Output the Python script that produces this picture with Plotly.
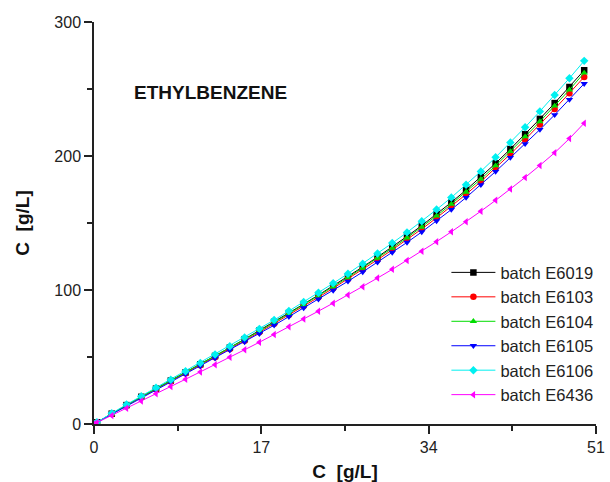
import plotly.graph_objects as go

# concentration in mobile phase [g/L]
x_vals = [0, 0.3, 1.8, 3.3, 4.8, 6.3, 7.8, 9.3, 10.8, 12.3, 13.8, 15.3, 16.8, 18.3,
          19.8, 21.3, 22.8, 24.3, 25.8, 27.3, 28.8, 30.3, 31.8, 33.3, 34.8, 36.3,
          37.8, 39.3, 40.8, 42.3, 43.8, 45.3, 46.8, 48.3, 49.8]

batch_E6019 = [0, 1.3, 7.7, 14.1, 20.3, 26.4, 32.4, 38.5, 44.6, 50.8, 57.0, 63.3, 69.7,
               76.2, 82.8, 89.5, 96.2, 103.0, 110.0, 117.2, 124.6, 132.2, 140.0, 148.1,
               156.6, 165.4, 174.6, 184.3, 194.5, 205.2, 216.3, 227.7, 239.5, 251.5, 264.0]
batch_E6103 = [0, 1.3, 7.5, 13.8, 19.9, 25.9, 31.8, 37.8, 43.8, 49.9, 56.0, 62.2, 68.5,
               74.9, 81.4, 88.0, 94.6, 101.3, 108.2, 115.3, 122.6, 130.0, 137.6, 145.5,
               153.8, 162.4, 171.4, 180.9, 190.9, 201.4, 212.3, 223.5, 235.1, 246.9, 259.0]
batch_E6104 = [0, 1.3, 7.6, 14.0, 20.1, 26.2, 32.2, 38.3, 44.3, 50.5, 56.7, 62.9, 69.3,
               75.8, 82.3, 88.9, 95.6, 102.4, 109.3, 116.4, 123.7, 131.2, 138.9, 146.9,
               155.3, 164.0, 173.1, 182.7, 192.8, 203.4, 214.4, 225.7, 237.4, 249.4, 262.0]
batch_E6105 = [0, 1.2, 7.4, 13.6, 19.6, 25.5, 31.3, 37.2, 43.1, 49.1, 55.1, 61.2, 67.4,
               73.7, 80.1, 86.6, 93.1, 99.7, 106.5, 113.5, 120.7, 128.0, 135.5, 143.3,
               151.5, 160.0, 169.0, 178.5, 188.4, 198.8, 209.1, 219.7, 230.7, 242.1, 254.0]
batch_E6106 = [0, 1.4, 8.0, 14.5, 20.8, 27.0, 33.1, 39.3, 45.5, 51.8, 58.1, 64.5, 71.0,
               77.6, 84.3, 91.1, 98.0, 105.0, 112.2, 119.6, 127.2, 135.0, 143.0, 151.3,
               160.0, 169.0, 178.5, 188.5, 199.0, 210.0, 221.5, 233.3, 245.5, 258.0, 271.0]
batch_E6436 = [0, 1.1, 6.4, 11.8, 17.2, 22.6, 28.0, 33.4, 38.8, 44.3, 49.8, 55.4, 61.0,
               66.7, 72.5, 78.3, 84.2, 90.2, 96.3, 102.5, 108.9, 115.4, 122.1, 129.0,
               136.1, 143.4, 151.0, 158.8, 166.9, 175.3, 184.0, 193.0, 202.4, 213.0, 224.5]

series_names = ["batch E6019", "batch E6103", "batch E6104", "batch E6105",
                "batch E6106", "batch E6436"]
series_values = [batch_E6019, batch_E6103, batch_E6104, batch_E6105,
                 batch_E6106, batch_E6436]
colors = ["#000000", "#ff0000", "#00dd00", "#0000ff", "#00f0f0", "#ff00ff"]
symbols = ["square", "circle", "triangle-up", "triangle-down", "diamond", "triangle-left"]

x_ticks = [0, 17, 34, 51]
y_ticks = [0, 100, 200, 300]

FONT = "Liberation Sans, Arial, Helvetica, sans-serif"

fig = go.Figure()
for name, vals, col, sym in zip(series_names, series_values, colors, symbols):
    fig.add_trace(go.Scatter(
        x=x_vals, y=vals, name=name, mode="lines+markers",
        line=dict(color=col, width=1),
        marker=dict(color=col, symbol=sym, size=6.5, line=dict(width=0)),
    ))

fig.update_layout(
    width=610, height=482,
    margin=dict(l=94, r=14, t=22, b=58, autoexpand=False),
    paper_bgcolor="white", plot_bgcolor="white",
    font=dict(family=FONT, color="#222222", size=16),
    showlegend=True,
    legend=dict(
        x=0.702, y=0.42, xanchor="left", yanchor="top",
        bgcolor="rgba(0,0,0,0)", borderwidth=0,
        font=dict(family=FONT, size=16.5, color="#222222"),
        itemwidth=44, tracegroupgap=0,
    ),
    annotations=[dict(
        text="<b>ETHYLBENZENE</b>", x=11.8, y=247.5, xref="x", yref="y",
        showarrow=False, font=dict(family=FONT, size=19, color="#111111"),
    )],
)

fig.update_xaxes(
    range=[0, 51], tickvals=x_ticks, ticktext=[str(v) for v in x_ticks],
    showline=True, linecolor="#222222", linewidth=1.5, mirror=False,
    ticks="outside", ticklen=8, tickwidth=1.5, tickcolor="#222222",
    minor=dict(dtick=8.5, ticks="outside", ticklen=5, tickwidth=1.5, tickcolor="#222222", showgrid=False),
    showgrid=False, zeroline=False, automargin=False,
    tickfont=dict(family=FONT, size=16, color="#222222"),
    title=dict(text="<b>C  [g/L]</b>", font=dict(family=FONT, size=19, color="#111111"), standoff=12),
)
fig.update_yaxes(
    range=[0, 300], tickvals=y_ticks, ticktext=[str(v) for v in y_ticks],
    showline=True, linecolor="#222222", linewidth=1.5, mirror=False,
    ticks="outside", ticklen=8, tickwidth=1.5, tickcolor="#222222",
    minor=dict(dtick=50, ticks="outside", ticklen=5, tickwidth=1.5, tickcolor="#222222", showgrid=False),
    showgrid=False, zeroline=False, automargin=False,
    tickfont=dict(family=FONT, size=16, color="#222222"),
    title=dict(text="<b>C  [g/L]</b>", font=dict(family=FONT, size=19, color="#111111"), standoff=20),
)

fig.write_html("out.html")
